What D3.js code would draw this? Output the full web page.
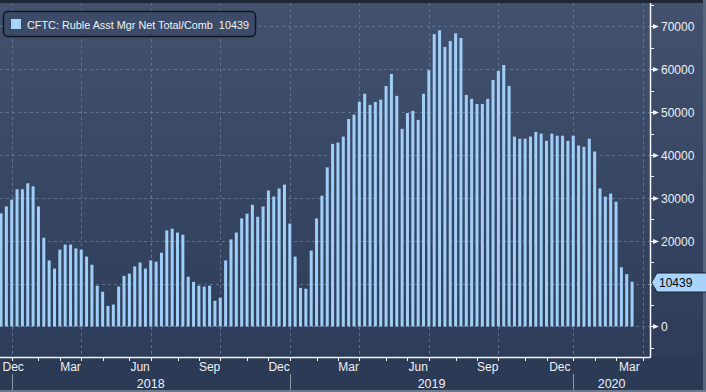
<!DOCTYPE html>
<meta charset="utf-8">

<style>
body {
    margin: 0;
    background-color: #2b3a55;
}

svg {
    display: block;
    font-family: "Liberation Sans", Arial, sans-serif;
}

.grid line {
    stroke: #5e7190;
    stroke-width: 1px;
    stroke-dasharray: 3,3;
}
</style>

<body>

<svg width="706" height="392"></svg>

<script src="https://d3js.org/d3.v7.min.js"></script>

<script>

// weekly CFTC numbers, first bar is 19 Dec 2017
var startDate = new Date(2017, 11, 19);

var values = [
    26400, 28000, 29600, 32000, 32000, 33400, 32700, 28000, 20700, 15400,
    13500, 17900, 19100, 19100, 18200, 17900, 16300, 14400,  9500,  8100,
     4800,  5100,  9300, 11800, 12300, 14000, 14900, 13500, 15400, 15100,
    17200, 22400, 22800, 21900, 21400, 11600, 10400,  9500,  9300,  9500,
     6000,  6700, 15400, 20300, 21900, 25200, 26300, 28400, 25600, 28000,
    31700, 30300, 32200, 33100, 24000, 16300,  9000,  8800, 17700, 25200,
    30500, 37100, 42600, 42900, 44300, 48400, 49400, 52400, 54300, 51700,
    52400, 52900, 56100, 58900, 53800, 46100, 49800, 50300, 48200, 54300,
    59800, 68200, 69100, 65200, 66600, 68400, 67300, 54000, 53100, 51900,
    51900, 53100, 57500, 59600, 61000, 56100, 44300, 43800, 43800, 44300,
    45400, 45000, 43300, 45000, 44500, 44500, 43300, 44500, 42200, 41900,
    43800, 40800, 32200, 30300, 31000, 29100, 13800, 12200, 10439
];

var seriesName = "CFTC: Ruble Asst Mgr Net Total/Comb";

var yTicks = [0, 10000, 20000, 30000, 40000, 50000, 60000, 70000];
var yMinorTicks = [-5000, 5000, 15000, 25000, 35000, 45000, 55000, 65000, 75000];
var monthNames = ["Jan","Feb","Mar","Apr","May","Jun","Jul","Aug","Sep","Oct","Nov","Dec"];
var shownMonths = ["Mar", "Jun", "Sep", "Dec"];

var svg = d3.select("svg");

var plotRight = 650, plotTop = 3, plotBottom = 357;

// x is by bar number, not by calendar
var x = d3.scaleLinear().domain([-0.19, 121.35]).range([0, plotRight]);
var y = d3.scaleLinear().domain([-7130, 75000]).range([plotBottom, 5]);

function weekDate(i) {
    var d = new Date(startDate);
    d.setDate(d.getDate() + 7 * i);
    return d;
}

var last = values[values.length - 1];
var ly = Math.round(y(last)) + 0.5;

// background
var defs = svg.append("defs");
var grad = defs.append("linearGradient").attr("id", "bg").attr("x1", 0).attr("y1", 0).attr("x2", 0).attr("y2", 1);
grad.append("stop").attr("offset", "0%").attr("stop-color", "#42526e");
grad.append("stop").attr("offset", "100%").attr("stop-color", "#2d3c58");

svg.append("rect").attr("width", 706).attr("height", 392).attr("fill", "#2b3a55");
svg.append("rect").attr("x", 0).attr("y", plotTop).attr("width", 706).attr("height", plotBottom - plotTop).attr("fill", "url(#bg)");
svg.append("rect").attr("width", 706).attr("height", plotTop).attr("fill", "#1e2637");
svg.append("rect").attr("x", 703).attr("y", 0).attr("width", 3).attr("height", 392).attr("fill", "#56667f");
svg.append("rect").attr("x", 0).attr("y", 390).attr("width", 706).attr("height", 2).attr("fill", "#6c7a8f");

// month starts (bar index of first week in each month)
var monthStarts = [];
for (var i = -4; i <= 123; i++) {
    var d = weekDate(i), p = weekDate(i - 1);
    if (d.getMonth() != p.getMonth()) {
        monthStarts.push({ i: i, month: d.getMonth(), year: d.getFullYear() });
    }
}

var quarterStarts = monthStarts.filter(function(m) { return m.month % 3 == 0 && x(m.i) > 0 && x(m.i) < plotRight; });
var yearStarts = monthStarts.filter(function(m) { return m.month == 0 && x(m.i) > 0 && x(m.i) < plotRight; });

// grid
var grid = svg.append("g").attr("class", "grid");

grid.selectAll(".h").data(yTicks).enter().append("line")
    .attr("x1", 0).attr("x2", plotRight)
    .attr("y1", function(d) { return Math.round(y(d)) + 0.5; })
    .attr("y2", function(d) { return Math.round(y(d)) + 0.5; });

grid.selectAll(".v").data(quarterStarts).enter().append("line")
    .attr("x1", function(d) { return Math.round(x(d.i)) + 0.5; })
    .attr("x2", function(d) { return Math.round(x(d.i)) + 0.5; })
    .attr("y1", plotTop).attr("y2", plotBottom);

// bars
svg.append("g").selectAll("rect")
    .data(values)
    .enter().append("rect")
    .attr("x", function(d, i) { return x(i) - 1.5; })
    .attr("width", 3)
    .attr("y", function(d) { return y(d); })
    .attr("height", function(d) { return y(0) - y(d); })
    .attr("fill", "#9fcff8");

// axes lines
svg.append("line").attr("x1", 0).attr("x2", plotRight + 0.5).attr("y1", plotBottom + 0.5).attr("y2", plotBottom + 0.5)
    .attr("stroke", "#f2f4f7").attr("stroke-width", 1.5);
svg.append("line").attr("x1", plotRight + 0.5).attr("x2", plotRight + 0.5).attr("y1", plotTop).attr("y2", plotBottom + 0.5)
    .attr("stroke", "#f2f4f7").attr("stroke-width", 1.5);

// y ticks
var yAxis = svg.append("g");

yAxis.selectAll(".minor").data(yMinorTicks).enter().append("line")
    .attr("x1", plotRight).attr("x2", plotRight + 4)
    .attr("y1", function(d) { return Math.round(y(d)) + 0.5; })
    .attr("y2", function(d) { return Math.round(y(d)) + 0.5; })
    .attr("stroke", "#f2f4f7");

var major = yAxis.selectAll(".major").data(yTicks).enter().append("g")
    .attr("transform", function(d) { return "translate(0," + (Math.round(y(d)) + 0.5) + ")"; });

major.append("line").attr("x1", plotRight).attr("x2", plotRight + 6).attr("stroke", "#f2f4f7");
major.append("path").attr("d", "M" + (plotRight + 3) + ",-2.5L" + (plotRight + 9) + ",0L" + (plotRight + 3) + ",2.5Z").attr("fill", "#f2f4f7");
// the label under the last value tag is hidden, like on the terminal
major.filter(function(d) { return Math.abs(y(d) - ly) > 12; })
    .append("text")
    .attr("x", plotRight + 11).attr("y", 4.5)
    .attr("font-size", 12).attr("fill", "#eef1f5")
    .text(function(d) { return d; });

// x ticks (months)
svg.append("g").selectAll("line")
    .data(monthStarts.filter(function(m) { return x(m.i) > 0 && x(m.i) < plotRight; }))
    .enter().append("line")
    .attr("x1", function(d) { return Math.round(x(d.i)) + 0.5; })
    .attr("x2", function(d) { return Math.round(x(d.i)) + 0.5; })
    .attr("y1", plotBottom).attr("y2", plotBottom + 4)
    .attr("stroke", "#f2f4f7");

// month labels centred in their month
var monthLabels = [];
for (var k = 0; k < monthStarts.length - 1; k++) {
    var name = monthNames[monthStarts[k].month];
    if (shownMonths.indexOf(name) < 0) continue;
    var mid = (x(monthStarts[k].i) + x(monthStarts[k + 1].i)) / 2;
    if (mid < -10 || mid > plotRight) continue;
    monthLabels.push({ name: name, x: mid });
}

svg.append("g").selectAll("text")
    .data(monthLabels)
    .enter().append("text")
    .attr("x", function(d) { return d.x; })
    .attr("y", 371)
    .attr("font-size", 12).attr("fill", "#eef1f5")
    .attr("text-anchor", "middle")
    .text(function(d) { return d.name; })
    .each(function(d) {
        var w = this.getComputedTextLength();
        if (d.x - w / 2 < 2.5) d3.select(this).attr("x", 2.5 + w / 2);
    });

// years
var yearEdges = yearStarts.map(function(m) { return { year: m.year, x: x(m.i) }; });

svg.append("g").selectAll("line")
    .data(yearEdges).enter().append("line")
    .attr("x1", function(d) { return Math.round(d.x) + 0.5; })
    .attr("x2", function(d) { return Math.round(d.x) + 0.5; })
    .attr("y1", 374).attr("y2", 390)
    .attr("stroke", "#8c97a8");

svg.append("g").selectAll("text")
    .data(yearEdges).enter().append("text")
    .attr("x", function(d, i) {
        var end = i < yearEdges.length - 1 ? yearEdges[i + 1].x : plotRight;
        return (d.x + end) / 2;
    })
    .attr("y", 388)
    .attr("font-size", 12.5).attr("fill", "#eef1f5")
    .attr("text-anchor", "middle")
    .text(function(d) { return d.year; });

// last value tag
svg.append("path")
    .attr("d", "M" + (plotRight + 1.5) + "," + ly + "L" + (plotRight + 7) + "," + (ly - 9.5) + "L707," + (ly - 9.5) + "L707," + (ly + 9.5) + "L" + (plotRight + 7) + "," + (ly + 9.5) + "Z")
    .attr("fill", "#a8d3fb").attr("stroke", "#1d2535").attr("stroke-width", 1);
svg.append("text")
    .attr("x", plotRight + 9).attr("y", ly + 4.5)
    .attr("font-size", 12).attr("fill", "#05070a")
    .text(last);

// legend
var legend = svg.append("g");
legend.append("rect")
    .attr("x", 3.5).attr("y", 11.5).attr("width", 252).attr("height", 25).attr("rx", 4)
    .attr("fill", "#3c4c68").attr("stroke", "#11151d").attr("stroke-width", 1.5);
legend.append("rect")
    .attr("x", 11).attr("y", 19).attr("width", 10).attr("height", 10)
    .attr("fill", "#a8d3fb");
legend.append("text")
    .attr("x", 27).attr("y", 28.5)
    .attr("font-size", 11).attr("fill", "#eef1f5")
    .style("white-space", "pre")
    .attr("textLength", 222).attr("lengthAdjust", "spacingAndGlyphs")
    .text(seriesName + "  " + last);

</script>

</body>
